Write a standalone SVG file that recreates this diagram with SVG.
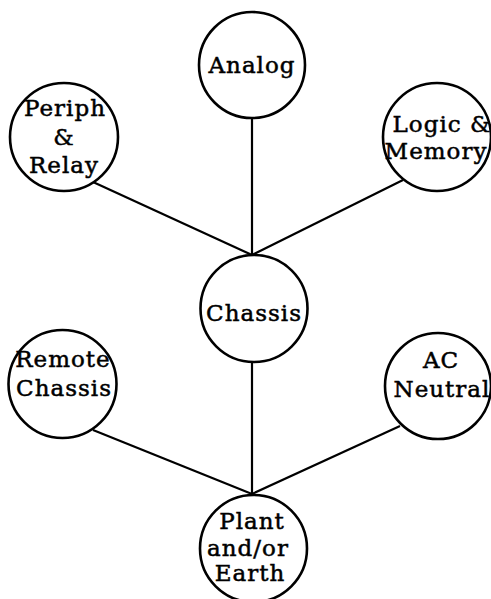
<svg xmlns="http://www.w3.org/2000/svg" width="491" height="599" viewBox="0 0 491 599">
<style>
.n circle{fill:#fff;stroke:#000;stroke-width:2.6}
.n text{font-family:"DejaVu Serif","Liberation Serif",serif;font-size:23px;letter-spacing:1px;text-anchor:middle;fill:#000;stroke:#000;stroke-width:0.5}
#edges line{stroke:#000;stroke-width:2.2}
</style>
<rect width="491" height="599" fill="#fff"/>
<g id="edges">
<line x1="252" y1="118" x2="252" y2="255"/>
<line x1="93" y1="182" x2="252" y2="255"/>
<line x1="403" y1="180" x2="252" y2="255"/>
<line x1="252" y1="362" x2="252" y2="494"/>
<line x1="93" y1="430" x2="252" y2="494"/>
<line x1="400" y1="426" x2="252" y2="494"/>
</g>
<g id="analog" class="n"><circle cx="252" cy="65" r="53"/><text x="252" y="73">Analog</text></g>
<g id="periph" class="n"><circle cx="64" cy="137" r="54"/><text x="65" y="116">Periph</text><text x="64" y="145">&amp;</text><text x="64" y="173">Relay</text></g>
<g id="logic" class="n"><circle cx="437" cy="137" r="54"/><text x="442" y="132">Logic &amp;</text><text x="436" y="159">Memory</text></g>
<g id="chassis" class="n"><circle cx="254" cy="308.5" r="53.5"/><text x="254" y="321">Chassis</text></g>
<g id="remote" class="n"><circle cx="62.5" cy="384" r="54"/><text x="63" y="367">Remote</text><text x="64" y="396">Chassis</text></g>
<g id="ac" class="n"><circle cx="438" cy="386" r="53"/><text x="441" y="368">AC</text><text x="442" y="397">Neutral</text></g>
<g id="plant" class="n"><circle cx="253.5" cy="548.5" r="53.5"/><text x="252" y="529">Plant</text><text x="248" y="556">and/or</text><text x="250" y="581">Earth</text></g>
</svg>
